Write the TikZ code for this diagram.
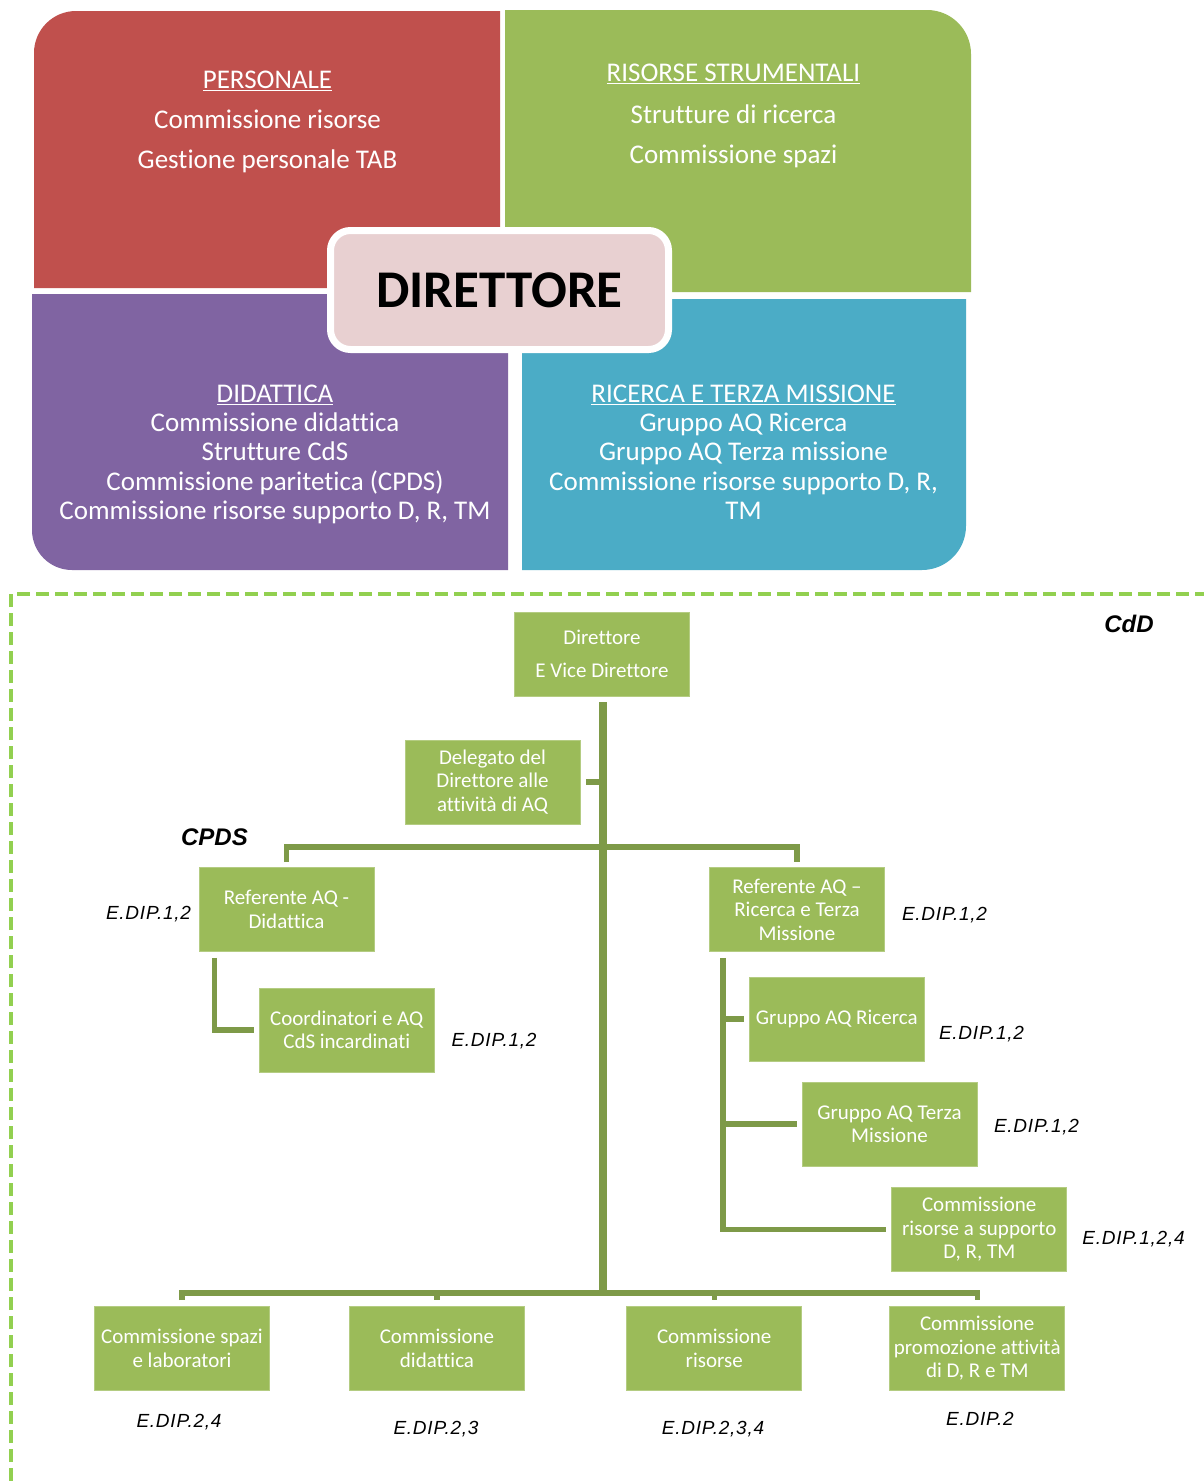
\documentclass[tikz,border=0pt]{standalone}
\usepackage{fontspec}
\setmainfont{Carlito}[Ligatures={NoCommon}]
\newfontfamily\arialfont{Liberation Sans}[LetterSpace=4]
\newfontfamily\arialtag{Liberation Sans}
\definecolor{cred}{HTML}{C0504D}
\definecolor{cgreen}{HTML}{9BBB59}
\definecolor{cpurple}{HTML}{8064A2}
\definecolor{cblue}{HTML}{4BACC6}
\definecolor{dirfill}{HTML}{E8D0D1}
\definecolor{cline}{HTML}{7E9A48}
\definecolor{cdash}{HTML}{92D050}
\begin{document}
\begin{tikzpicture}[x=1pt,y=-1pt,
  paneltxt/.style={text=white, inner sep=0pt, anchor=base, font=\fontsize{27}{29}\selectfont},
  tbox/.style={fill=cgreen, draw=cgreen!75!white, line width=0.8pt, text=white, minimum width=175pt, minimum height=84pt, inner sep=2pt, align=center, font=\fontsize{21}{23.5}\selectfont},
  conn/.style={draw=cline, line width=5.5pt},
  trunkline/.style={draw=cline, line width=8pt},
  edip/.style={font=\arialfont\itshape\fontsize{19}{22}\selectfont, inner sep=0pt, anchor=base},
  tagtxt/.style={font=\arialtag\bfseries\itshape\fontsize{24}{28}\selectfont, inner sep=0pt, anchor=base},
]
\useasboundingbox (0,0) rectangle (1204,1481);
\clip (0,0) rectangle (1204,1481);
\fill[white] (0,0) rectangle (1204,1481);

% ---- top panels ----
\fill[cred] (34,288) -- (34,53) arc[start angle=180,end angle=270,radius=42] -- (500,11) -- (500,288) -- cycle;
\fill[cgreen] (505,292) -- (505,10) -- (927,10) arc[start angle=270,end angle=360,radius=44] -- (971,292) -- cycle;
\fill[cpurple] (32,294) -- (508,294) -- (508,570) -- (72,570) arc[start angle=90,end angle=180,radius=40] -- cycle;
\fill[cblue] (522,299) -- (966,299) -- (966,526) arc[start angle=0,end angle=90,radius=44] -- (522,570) -- cycle;

\node[paneltxt] (r1) at (267.5,88.3) {\underline{PERSONALE}};
\node[paneltxt] (r2) at (267.5,128.3) {Commissione risorse};
\node[paneltxt] (r3) at (267.5,168.3) {Gestione personale TAB};

\node[paneltxt] (g1) at (733.5,81.7) {\underline{RISORSE STRUMENTALI}};
\node[paneltxt] (g2) at (733.5,123.3) {Strutture di ricerca};
\node[paneltxt] (g3) at (733.5,163.3) {Commissione spazi};

\node[paneltxt] (p1) at (275,402.7) {\underline{DIDATTICA}};
\node[paneltxt] (p2) at (275,431.7) {Commissione didattica};
\node[paneltxt] (p3) at (275,460.7) {Strutture CdS};
\node[paneltxt] (p4) at (275,490) {Commissione paritetica (CPDS)};
\node[paneltxt] (p5) at (275,519) {Commissione risorse supporto D, R, TM};

\node[paneltxt] (b1t) at (743.5,402.7) {\underline{RICERCA E TERZA MISSIONE}};
\node[paneltxt] (b2t) at (743.5,431.7) {Gruppo AQ Ricerca};
\node[paneltxt] (b3t) at (743.5,460.7) {Gruppo AQ Terza missione};
\node[paneltxt] (b4t) at (743.5,490) {Commissione risorse supporto D, R,};
\node[paneltxt] (b5t) at (743.5,519) {TM};

\node[draw=white, line width=7pt, fill=dirfill, rounded corners=20pt,
      minimum width=338pt, minimum height=119pt, inner sep=0pt,
      font=\bfseries\fontsize{53}{60}\selectfont] (direttore) at (499.5,290) {DIRETTORE};

% ---- CdD frame ----
\draw[cdash, line width=4.5pt, dash pattern=on 13pt off 6pt] (11,1500) -- (11,594) -- (1230,594);
\node[tagtxt] (cdd) at (1129,632.5) {CdD};
\node[tagtxt] (cpds) at (214.5,845.5) {CPDS};

% ---- tree nodes ----
\node[tbox] (dir) at (602,654) {Direttore\\[9.5pt]E Vice Direttore};
\node[tbox] (del) at (492.5,782) {Delegato del\\Direttore alle\\attività di AQ};
\node[tbox] (refdid) at (286.5,909.5) {Referente AQ -\\Didattica};
\node[tbox] (coord) at (346.75,1030) {Coordinatori e AQ\\CdS incardinati};
\node[tbox] (refric) at (797,909.5) {Referente AQ --\\Ricerca e Terza\\Missione};
\node[tbox] (grric) at (836.75,1019) {Gruppo AQ Ricerca};
\node[tbox] (grtm) at (889.5,1124) {Gruppo AQ Terza\\Missione};
\node[tbox] (commris) at (979.25,1229.5) {Commissione\\risorse a supporto\\D, R, TM};
\node[tbox] (bx1) at (182,1348.5) {Commissione spazi\\e laboratori};
\node[tbox] (bx2) at (437,1348.5) {Commissione\\didattica};
\node[tbox] (bx3) at (714.25,1348.5) {Commissione\\risorse};
\node[tbox] (bx4) at (977.25,1348.5) {Commissione\\promozione attività\\di D, R e TM};

% ---- labels ----
\node[edip] (lrefdid) at (148.5,919.5) {E.DIP.1,2};
\node[edip] (lcoord) at (494,1046.5) {E.DIP.1,2};
\node[edip] (lrefric) at (944.5,920.5) {E.DIP.1,2};
\node[edip] (lgrric) at (981.5,1039.5) {E.DIP.1,2};
\node[edip] (lgrtm) at (1036.5,1132.5) {E.DIP.1,2};
\node[edip] (lcommris) at (1133.5,1244.5) {E.DIP.1,2,4};
\node[edip] (lb1) at (179,1427) {E.DIP.2,4};
\node[edip] (lb2) at (436,1434) {E.DIP.2,3};
\node[edip] (lb3) at (713,1434) {E.DIP.2,3,4};
\node[edip] (lb4) at (980,1425) {E.DIP.2};

% ---- connectors ----
\coordinate (bus) at (603,1293);
\coordinate (midbar) at (603,847);
\coordinate (trunktop) at (603,702);
\draw[trunkline] (trunktop) -- (bus);
\draw[conn] ([xshift=6pt]del.east) -- (del.east -| trunktop);
\draw[conn] ([yshift=5pt]refdid.north) -- (refdid.north |- midbar) -- (refric.north |- midbar) -- ([yshift=5pt]refric.north);
\draw[conn] ([xshift=16pt,yshift=-6pt]refdid.south west) |- ([xshift=-5pt]coord.west);
\coordinate (rl) at ([xshift=14pt,yshift=-6pt]refric.south west);
\draw[conn] (rl) |- ([xshift=-5pt]commris.west);
\draw[conn] (grric.west -| rl) -- ([xshift=-5pt]grric.west);
\draw[conn] (grtm.west -| rl) -- ([xshift=-5pt]grtm.west);
\draw[conn] ([yshift=6pt]bx1.north) -- (bx1.north |- bus) -- (bx4.north |- bus) -- ([yshift=6pt]bx4.north);
\draw[conn] (bx2.north |- bus) -- ([yshift=6pt]bx2.north);
\draw[conn] (bx3.north |- bus) -- ([yshift=6pt]bx3.north);
\end{tikzpicture}
\end{document}
